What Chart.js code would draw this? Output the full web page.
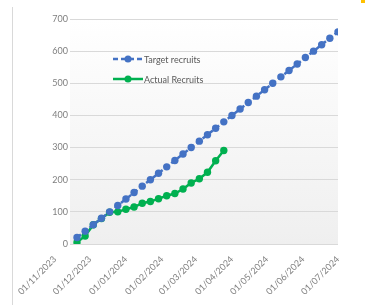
<!DOCTYPE html>
<html>
<head>
<meta charset="utf-8">
<script src="https://cdn.jsdelivr.net/npm/chart.js@4.4.1/dist/chart.umd.min.js"></script>
<style>
  html, body { margin:0; padding:0; background:#fff; }
  #wrap { position:relative; width:365px; height:305px; overflow:hidden; }
  #edge { position:absolute; left:12px; top:7px; width:1px; height:298px; background:#d9d9d9; }
  #corner { position:absolute; left:361px; top:0; width:4px; height:3px; background:#ffc000; }
  #legend { position:absolute; left:113px; top:49px; font:9px Lato, sans-serif; color:#595959; }
  #legend .row { display:flex; align-items:center; height:20px; }
  #legend svg { margin-right:1px; }
</style>
</head>
<body>
<div id="wrap">
  <canvas id="chart" width="365" height="305"></canvas>
  <div id="edge"></div>
  <div id="corner"></div>
  <div id="legend"></div>
</div>
<script>
// Data
const targetDates = [
    '2023-11-20','2023-11-27','2023-12-04','2023-12-11','2023-12-18','2023-12-25',
    '2024-01-01','2024-01-08','2024-01-15','2024-01-22','2024-01-29',
    '2024-02-05','2024-02-12','2024-02-19','2024-02-26',
    '2024-03-04','2024-03-11','2024-03-18','2024-03-25',
    '2024-04-01','2024-04-08','2024-04-15','2024-04-22','2024-04-29',
    '2024-05-06','2024-05-13','2024-05-20','2024-05-27',
    '2024-06-03','2024-06-10','2024-06-17','2024-06-24','2024-07-01'
];
const targetRecruits = [20, 40, 60, 80, 100, 120, 140, 160, 180, 200, 220, 240, 260, 280, 300, 320,
    340, 360, 380, 400, 420, 440, 460, 480, 500, 520, 540, 560, 580, 600, 620, 640, 660];
const actualRecruits = [5, 25, 60, 79, 99, 100, 108, 115, 127, 132, 141, 150, 157, 171, 190, 203, 223, 259, 291];
const monthTicks = ['2023-11-01','2023-12-01','2024-01-01','2024-02-01','2024-03-01',
    '2024-04-01','2024-05-01','2024-06-01','2024-07-01'];
const yTicks = [0, 100, 200, 300, 400, 500, 600, 700];
const seriesNames = ['Target recruits', 'Actual Recruits'];

const toMs = s => Date.parse(s + 'T00:00:00Z');
const pad2 = n => String(n).padStart(2, '0');
function fmtDate(v) {
    const d = new Date(v);
    return pad2(d.getUTCDate()) + '/' + pad2(d.getUTCMonth() + 1) + '/' + d.getUTCFullYear();
}

const blue = '#4472c4', green = '#00b050';

// plot area shading
const plotBg = {
    id: 'plotBg',
    beforeDraw(chart) {
        const { ctx, chartArea: a } = chart;
        const g = ctx.createLinearGradient(0, a.top, 0, a.bottom);
        g.addColorStop(0, '#ffffff');
        g.addColorStop(1, '#efefef');
        ctx.save();
        ctx.fillStyle = g;
        ctx.fillRect(a.left, a.top, a.right - a.left, a.bottom - a.top);
        ctx.restore();
    }
};

const chart = new Chart(document.getElementById('chart'), {
    type: 'line',
    data: {
        datasets: [{
            label: seriesNames[0],
            data: targetDates.map((d, i) => ({ x: toMs(d), y: targetRecruits[i] })),
            borderColor: blue, backgroundColor: blue,
            borderWidth: 2.5, borderDash: [5, 3],
            pointRadius: 3.7, pointHoverRadius: 3.7, pointBorderWidth: 0,
            tension: 0
        }, {
            label: seriesNames[1],
            data: actualRecruits.map((v, i) => ({ x: toMs(targetDates[i]), y: v })),
            borderColor: green, backgroundColor: green,
            borderWidth: 2.5,
            pointRadius: 3.7, pointHoverRadius: 3.7, pointBorderWidth: 0,
            tension: 0
        }]
    },
    options: {
        responsive: false, animation: false,
        layout: { padding: { top: 19, right: 27, left: 0, bottom: 0 } },
        plugins: { legend: { display: false }, tooltip: { enabled: false } },
        scales: {
            x: {
                type: 'linear',
                min: toMs('2023-11-14'), max: toMs('2024-07-01'),
                afterBuildTicks: s => { s.ticks = monthTicks.map(d => ({ value: toMs(d) })); },
                afterFit: s => { s.height = 61; },
                grid: { display: false, drawTicks: false },
                border: { display: false },
                ticks: {
                    autoSkip: false, maxRotation: 45, minRotation: 45, padding: 10,
                    color: '#7f7f7f', font: { family: 'Lato', size: 9 },
                    callback: v => fmtDate(v)
                }
            },
            y: {
                min: 0, max: 700,
                afterBuildTicks: s => { s.ticks = yTicks.map(v => ({ value: v })); },
                afterFit: s => { s.width = 70; },
                grid: { color: '#d9d9d9', lineWidth: 1, drawTicks: false },
                border: { display: false },
                ticks: { padding: 2, color: '#7f7f7f', font: { family: 'Lato', size: 9 } }
            }
        }
    },
    plugins: [plotBg]
});

// Legend
const legend = document.getElementById('legend');
chart.data.datasets.forEach(ds => {
    const dash = ds.borderDash ? `stroke-dasharray="${ds.borderDash.join(',')}"` : '';
    legend.innerHTML += `<div class="row"><svg width="30" height="8">
        <line x1="0" y1="4" x2="30" y2="4" stroke="${ds.borderColor}" stroke-width="2.5" ${dash}/>
        <circle cx="15" cy="4" r="3.5" fill="${ds.borderColor}"/></svg><span>${ds.label}</span></div>`;
});
</script>
</body>
</html>
